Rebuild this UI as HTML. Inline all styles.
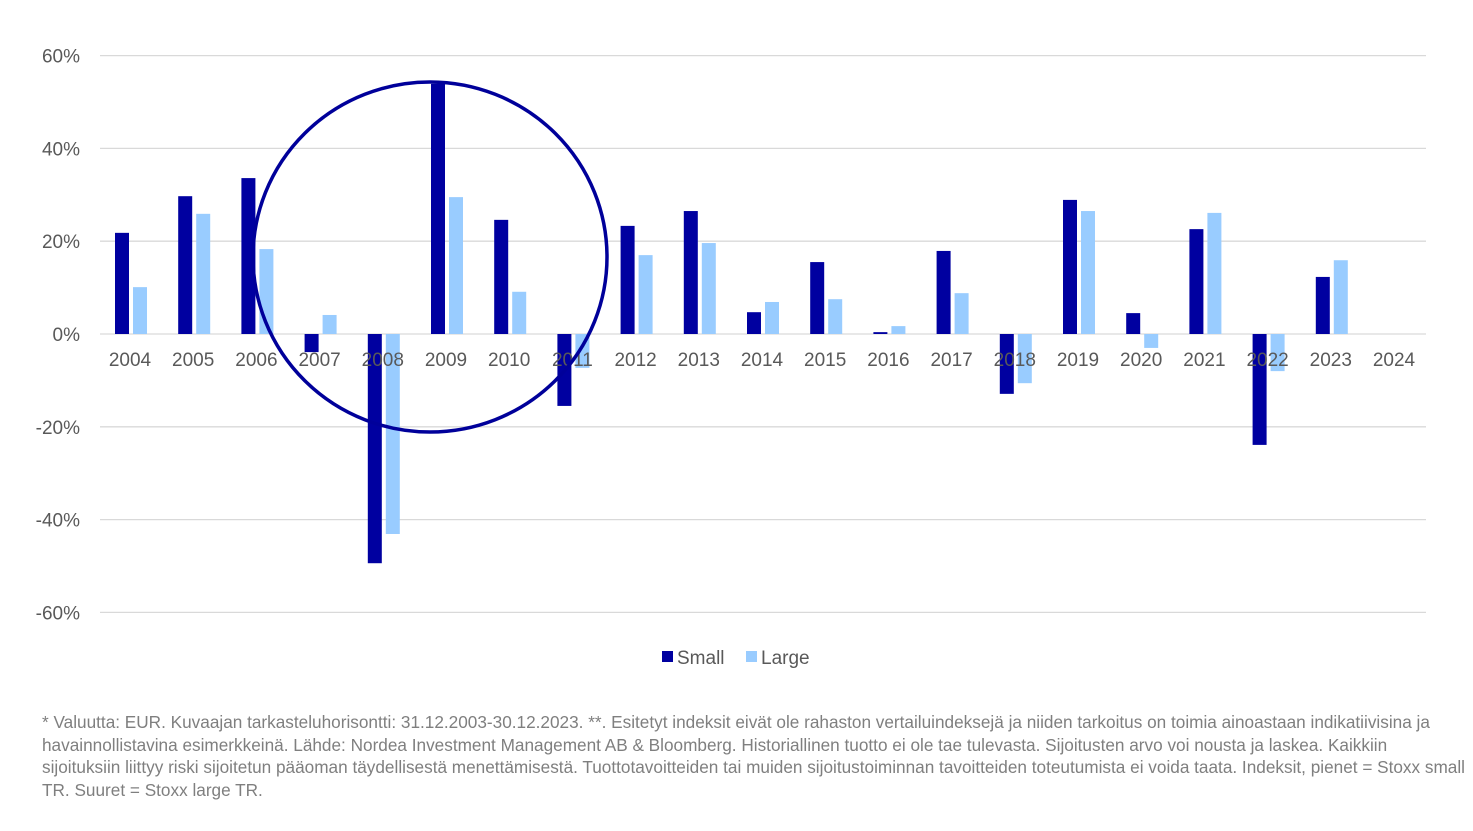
<!DOCTYPE html>
<html><head><meta charset="utf-8"><style>
body{margin:0;background:#fff;width:1473px;height:831px;overflow:hidden;font-family:"Liberation Sans",sans-serif}
#foot{position:absolute;left:42px;top:711px;width:1425px;font-size:17.2px;line-height:22.6px;color:#7f7f7f}
</style></head><body>
<svg id="chart" width="1473" height="700" style="position:absolute;left:0;top:0"></svg>
<div id="foot">* Valuutta: EUR. Kuvaajan tarkasteluhorisontti: 31.12.2003-30.12.2023. **. Esitetyt indeksit eivät ole rahaston vertailuindeksejä ja niiden tarkoitus on toimia ainoastaan indikatiivisina ja havainnollistavina esimerkkeinä. Lähde: Nordea Investment Management AB &amp; Bloomberg. Historiallinen tuotto ei ole tae tulevasta. Sijoitusten arvo voi nousta ja laskea. Kaikkiin sijoituksiin liittyy riski sijoitetun pääoman täydellisestä menettämisestä. Tuottotavoitteiden tai muiden sijoitustoiminnan tavoitteiden toteutumista ei voida taata. Indeksit, pienet = Stoxx small TR. Suuret = Stoxx large TR.</div>
<script>
const categories=["2004","2005","2006","2007","2008","2009","2010","2011","2012","2013","2014","2015","2016","2017","2018","2019","2020","2021","2022","2023","2024"];
const smallVals=[21.8,29.7,33.6,-3.9,-49.4,53.9,24.6,-15.5,23.3,26.5,4.7,15.5,0.4,17.9,-12.9,28.9,4.5,22.6,-23.9,12.3,null];
const largeVals=[10.1,25.9,18.3,4.1,-43.1,29.5,9.1,-7.3,17.0,19.6,6.9,7.5,1.7,8.8,-10.6,26.5,-3.0,26.1,-8.0,15.9,null];
const yTicks=[60,40,20,0,-20,-40,-60];
const NS="http://www.w3.org/2000/svg";
const svg=document.getElementById('chart');
const y=v=>334-v*4.64;
const x=i=>130+i*63.2;
function mk(t,a){const e=document.createElementNS(NS,t);for(const k in a)e.setAttribute(k,a[k]);svg.appendChild(e);return e;}
yTicks.forEach(t=>{
 const l=mk('line',{x1:100,x2:1426,y1:y(t),y2:y(t),stroke:'#d9d9d9','stroke-width':1.3});
 
 
 const tx=mk('text',{x:80,y:y(t)+7,'text-anchor':'end','font-size':19,fill:'#595959'});
 tx.textContent=t+'%';
 
 
});
categories.forEach((c,i)=>{
 [[smallVals[i],-15,'#0000a0','bar-small'],[largeVals[i],3,'#99ccff','bar-large']].forEach(([v,o,col,n])=>{
  if(v==null)return;
  const r=mk('rect',{x:x(i)+o,width:14,y:Math.min(y(v),y(0)),height:Math.abs(y(v)-y(0)),fill:col});
  
  
 });
});
categories.forEach((c,i)=>{
 const tx=mk('text',{x:x(i),y:366,'text-anchor':'middle','font-size':19,fill:'#595959'});
 tx.textContent=c;
 
 
});
const circ=mk('ellipse',{cx:430,cy:257,rx:177,ry:175,fill:'none',stroke:'#00009a','stroke-width':3.5});


[[662,'#0000a0','Small',677],[746,'#99ccff','Large',761]].forEach(([lx,col,t,tx0])=>{
 const r=mk('rect',{x:lx,y:651,width:11,height:11,fill:col});
 
 
 const tx=mk('text',{x:tx0,y:664,'font-size':19,fill:'#595959'});
 tx.textContent=t;
 
 
});
</script>
</body></html>
